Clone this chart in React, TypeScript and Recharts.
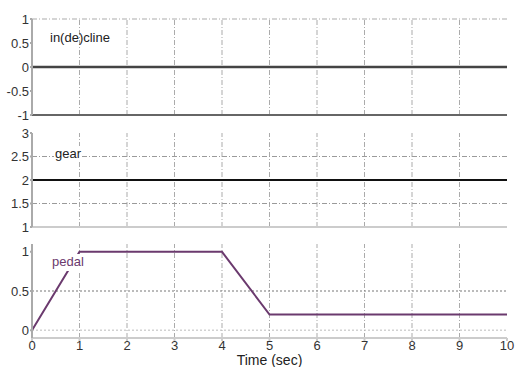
import React from "react"
import { LineChart, Line, XAxis, YAxis, ReferenceLine } from "recharts"

const timeTicks = [0, 1, 2, 3, 4, 5, 6, 7, 8, 9, 10]
const gridX = [1, 2, 3, 4, 5, 6, 7, 8, 9]

const inclineTime = [0, 10]
const inclineValues = [0, 0]
const inclineTicks = [-1, -0.5, 0, 0.5, 1]

const gearTime = [0, 10]
const gearValues = [2, 2]
const gearTicks = [1, 1.5, 2, 2.5, 3]

const pedalTime = [0, 1, 4, 5, 10]
const pedalValues = [0, 1, 1, 0.2, 0.2]
const pedalTicks = [0, 0.5, 1]

const toRows = (t: number[], v: number[]) => t.map((x, i) => ({ t: x, v: v[i] }))

const font = "'Liberation Sans', Arial, sans-serif"
const tickStyle = { fontSize: 13, fill: "#333", fontFamily: font }
const gridDash = "5 2 1 2"
const gridColor = "#ababab"

export default function App() {
  const W = 518
  return (
    <div style={{ position: "absolute", left: 0, top: 0, width: W, height: 367, background: "#fff", fontFamily: font }}>
      {/* incline */}
      <div style={{ position: "absolute", left: 0, top: 0 }}>
        <LineChart width={W} height={122} data={toRows(inclineTime, inclineValues)} margin={{ top: 19, right: 11, bottom: 7, left: 0 }}>
          <XAxis dataKey="t" type="number" domain={[0, 10]} ticks={timeTicks} hide />
          <YAxis
            type="number"
            domain={[-1, 1]}
            ticks={inclineTicks}
            width={32}
            tick={tickStyle}
            tickSize={2}
            tickMargin={1}
            stroke="#aaa"
            strokeWidth={2}
            interval={0}
          />
          {gridX.map((x) => (
            <ReferenceLine key={x} x={x} stroke={gridColor} strokeDasharray={gridDash} />
          ))}
          <ReferenceLine y={1} stroke={gridColor} strokeDasharray={gridDash} />
          <ReferenceLine y={-1} stroke="#666" strokeWidth={2} />
          <Line dataKey="v" stroke="#444" strokeWidth={2.5} dot={false} isAnimationActive={false} />
        </LineChart>
      </div>
      {/* gear */}
      <div style={{ position: "absolute", left: 0, top: 120 }}>
        <LineChart width={W} height={117} data={toRows(gearTime, gearValues)} margin={{ top: 13, right: 11, bottom: 10, left: 0 }}>
          <XAxis dataKey="t" type="number" domain={[0, 10]} ticks={timeTicks} hide />
          <YAxis
            type="number"
            domain={[1, 3]}
            ticks={gearTicks}
            width={32}
            tick={tickStyle}
            tickSize={2}
            tickMargin={1}
            stroke="#aaa"
            strokeWidth={2}
            interval={0}
          />
          {gridX.map((x) => (
            <ReferenceLine key={x} x={x} stroke={gridColor} strokeDasharray={gridDash} />
          ))}
          <ReferenceLine y={2.5} stroke="#9a9a9a" strokeDasharray={gridDash} />
          <ReferenceLine y={1.5} stroke="#9a9a9a" strokeDasharray={gridDash} />
          <ReferenceLine y={1} stroke="#ccc" strokeWidth={2} />
          <Line dataKey="v" stroke="#111" strokeWidth={2} dot={false} isAnimationActive={false} />
        </LineChart>
      </div>
      {/* pedal */}
      <div style={{ position: "absolute", left: 0, top: 235 }}>
        <LineChart width={W} height={132} data={toRows(pedalTime, pedalValues)} margin={{ top: 9, right: 11, bottom: 0, left: 0 }}>
          <XAxis
            dataKey="t"
            type="number"
            domain={[0, 10]}
            ticks={timeTicks}
            interval={0}
            height={29}
            tick={tickStyle}
            tickSize={3}
            tickMargin={0}
            stroke="#ccc"
            strokeWidth={2}
            label={{ value: "Time (sec)", position: "insideBottom", offset: 2, style: { fontSize: 14, fill: "#222", fontFamily: font } }}
          />
          <YAxis
            type="number"
            domain={[-0.1, 1.1]}
            ticks={pedalTicks}
            width={32}
            tick={tickStyle}
            tickSize={2}
            tickMargin={1}
            stroke="#aaa"
            strokeWidth={2}
            interval={0}
          />
          {gridX.map((x) => (
            <ReferenceLine key={x} x={x} stroke={gridColor} strokeDasharray={gridDash} />
          ))}
          <ReferenceLine y={0.5} stroke="#777" strokeDasharray="2 2" />
          <ReferenceLine y={0} stroke="#bbb" strokeDasharray="2 2" />
          <Line dataKey="v" type="linear" stroke="#6b3a6e" strokeWidth={2} dot={false} isAnimationActive={false} />
        </LineChart>
      </div>
      <div style={{ position: "absolute", left: 50, top: 30, fontSize: 13, color: "#222", lineHeight: "15px" }}>in(de)cline</div>
      <div style={{ position: "absolute", left: 54, top: 146, fontSize: 13, color: "#222", lineHeight: "15px", background: "#fff", padding: "0 1px" }}>gear</div>
      <div style={{ position: "absolute", left: 51, top: 254, fontSize: 13, color: "#6b3a6e", lineHeight: "15px", background: "#fff", padding: "0 4px 2px 1px" }}>pedal</div>
    </div>
  )
}
